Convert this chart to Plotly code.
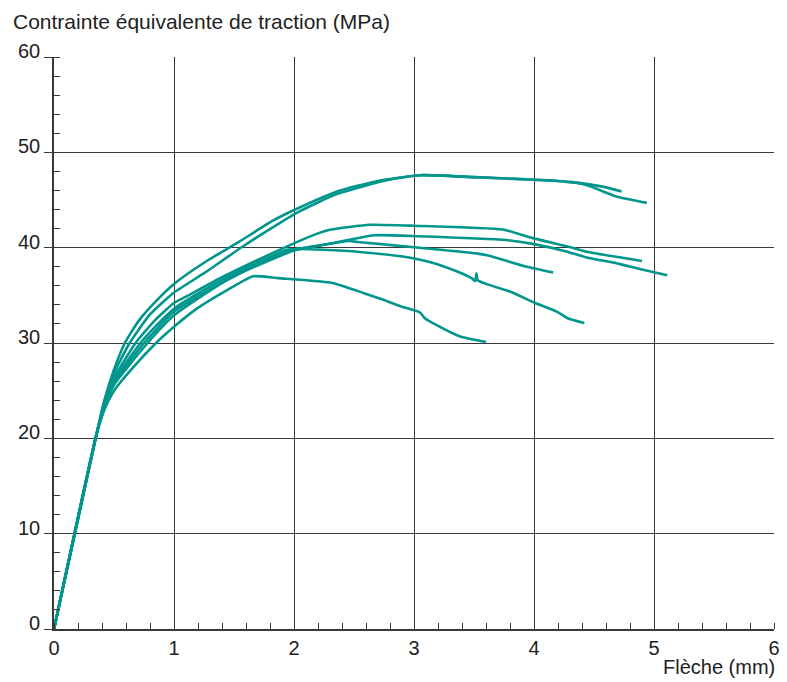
import plotly.graph_objects as go

# Flèche (mm) / contrainte équivalente de traction (MPa) for each specimen
fleche_1 = [0, 0.35, 0.42, 0.50, 0.59, 0.71, 0.85, 1.00, 1.26, 1.54, 1.82, 2.01, 2.36, 2.70,
            3.05, 3.50, 4.20, 4.30, 4.57, 4.73]
contrainte_1 = [0, 20.2, 24.0, 27.2, 30.0, 32.4, 34.4, 36.2, 38.5, 40.6, 42.8, 44.0, 45.9, 47.0,
                47.6, 47.4, 47.0, 46.9, 46.4, 45.9]

fleche_2 = [0, 0.35, 0.42, 0.50, 0.63, 0.80, 0.99, 1.26, 1.57, 1.87, 2.03, 2.35, 2.78, 3.05,
            3.50, 4.20, 4.43, 4.68, 4.94]
contrainte_2 = [0, 20.2, 23.8, 26.8, 30.0, 33.0, 35.2, 37.4, 40.1, 42.5, 43.7, 45.6, 47.1, 47.6,
                47.4, 47.0, 46.6, 45.4, 44.7]

fleche_3 = [0, 0.35, 0.42, 0.50, 0.68, 0.85, 1.00, 1.12, 1.40, 1.68, 1.99, 2.20, 2.31, 2.63,
            3.00, 3.74, 3.99, 4.32, 4.43, 4.90]
contrainte_3 = [0, 20.2, 23.6, 26.3, 30.0, 32.5, 34.2, 35.0, 36.9, 38.6, 40.4, 41.5, 41.9, 42.4,
                42.3, 41.9, 41.0, 40.0, 39.6, 38.6]

fleche_4 = [0, 0.35, 0.42, 0.50, 0.72, 0.85, 1.00, 1.30, 1.60, 2.00, 2.20, 2.45, 2.67, 3.03,
            3.77, 3.99, 4.27, 4.43, 4.71, 4.90, 5.11]
contrainte_4 = [0, 20.2, 23.4, 26.0, 30.0, 31.8, 33.6, 35.9, 37.9, 39.8, 40.2, 40.8, 41.3, 41.2,
                40.8, 40.4, 39.6, 39.0, 38.3, 37.7, 37.1]

fleche_5 = [0, 0.35, 0.42, 0.50, 0.75, 1.00, 1.30, 1.60, 2.00, 2.20, 2.46, 2.53, 3.00, 3.52,
            3.61, 3.94, 4.16]
contrainte_5 = [0, 20.2, 23.3, 25.8, 30.0, 33.3, 35.6, 37.6, 39.7, 40.2, 40.7, 40.6, 40.05, 39.4,
                39.2, 38.0, 37.4]

fleche_6 = [0, 0.35, 0.42, 0.50, 0.78, 1.00, 1.30, 1.60, 1.95, 2.20, 2.59, 2.89, 3.13, 3.36,
            3.48, 3.51, 3.52, 3.53, 3.60, 3.80, 4.01, 4.19, 4.28, 4.42]
contrainte_6 = [0, 20.2, 23.2, 25.6, 30.0, 32.9, 35.5, 37.8, 39.8, 39.8, 39.5, 39.1, 38.5, 37.5,
                36.8, 36.5, 37.3, 36.6, 36.2, 35.4, 34.2, 33.3, 32.6, 32.1]

fleche_7 = [0, 0.35, 0.42, 0.50, 0.656, 0.85, 1.00, 1.19, 1.45, 1.66, 1.87, 2.32, 2.59, 2.75,
            2.90, 3.05, 3.09, 3.17, 3.38, 3.60]
contrainte_7 = [0, 20.2, 23.0, 25.0, 27.4, 30.0, 31.7, 33.6, 35.6, 37.0, 36.8, 36.3, 35.2, 34.5,
                33.8, 33.2, 32.6, 32.0, 30.7, 30.1]

x_ticks = [0, 1, 2, 3, 4, 5, 6]
y_ticks = [0, 10, 20, 30, 40, 50, 60]

series = [
    (fleche_1, contrainte_1), (fleche_2, contrainte_2), (fleche_3, contrainte_3),
    (fleche_4, contrainte_4), (fleche_5, contrainte_5), (fleche_6, contrainte_6),
    (fleche_7, contrainte_7),
]

CURVE = "#00968c"
INK = "#222222"
GRID = "#383838"
FONT = "Liberation Sans, Arial, sans-serif"

fig = go.Figure()
for xs, ys in series:
    fig.add_trace(go.Scatter(x=xs, y=ys, mode="lines",
                             line=dict(color=CURVE, width=2.6, shape="spline", smoothing=0.5),
                             hoverinfo="skip"))

fig.update_layout(
    width=787, height=682,
    margin=dict(l=54, r=7, t=57, b=53),
    paper_bgcolor="white", plot_bgcolor="white",
    showlegend=False,
    font=dict(family=FONT, size=20, color=INK),
)

fig.update_xaxes(
    range=[0, 6], tickvals=x_ticks, ticktext=[str(v) for v in x_ticks],
    showgrid=True, gridcolor=GRID, gridwidth=1.4,
    showline=True, linecolor=GRID, linewidth=1.6,
    ticks="", zeroline=False,
    minor=dict(ticks="inside", dtick=0.2, ticklen=6, tickcolor=GRID, tickwidth=1.3,
               showgrid=False),
    tickfont=dict(size=20, color=INK),
)
fig.update_yaxes(
    range=[0, 60], tickvals=y_ticks, ticktext=[str(v) for v in y_ticks],
    showgrid=True, gridcolor=GRID, gridwidth=1.4,
    showline=True, linecolor=GRID, linewidth=1.6,
    ticks="outside", ticklen=8, tickcolor=GRID, tickwidth=1.4,
    ticklabelshift=-6, zeroline=False,
    minor=dict(ticks="inside", dtick=2, ticklen=6, tickcolor=GRID, tickwidth=1.3,
               showgrid=False),
    tickfont=dict(size=20, color=INK),
)

fig.add_annotation(
    text="Contrainte équivalente de traction (MPa)",
    xref="paper", yref="paper", x=(11 - 54) / 726, y=(629 - 22) / 572,
    xanchor="left", yanchor="middle", showarrow=False,
    font=dict(family=FONT, size=21, color=INK),
)
fig.add_annotation(
    text="Flèche (mm)",
    xref="paper", yref="paper", x=(783 - 54) / 726, y=(629 - 667) / 572,
    xanchor="right", yanchor="middle", showarrow=False,
    font=dict(family=FONT, size=20, color=INK),
)

fig.write_html("out.html")
